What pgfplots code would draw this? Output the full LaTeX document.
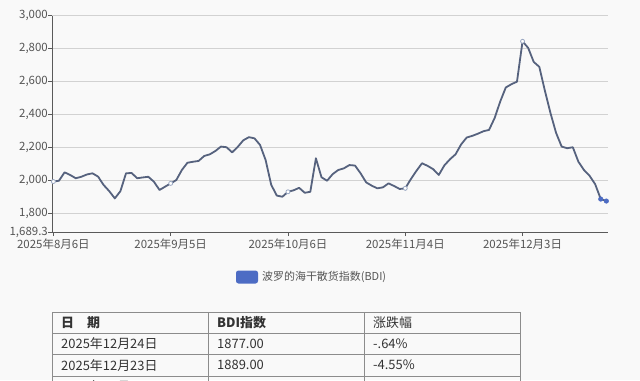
\documentclass[border=0pt]{standalone}
\usepackage{pgfplots}
\usepackage{pgfplotstable}
\pgfplotsset{compat=1.18}
\usepackage{fontspec}
\setmainfont{Noto Sans CJK SC}
\definecolor{bg}{HTML}{F9F9F9}
\definecolor{lineC}{HTML}{56627E}
\definecolor{legblue}{HTML}{4D6CC4}
\definecolor{gridC}{HTML}{D2D2D2}
\definecolor{axC}{HTML}{5A5A5A}
\definecolor{txt}{HTML}{555555}
\definecolor{markC}{HTML}{9AA8C2}
\definecolor{tabC}{HTML}{8C8C8C}
\definecolor{tabTxt}{HTML}{333333}

\pgfplotstableread{
x y
0 1995
1 2000
2 2051
3 2035
4 2015
5 2024
6 2038
7 2045
8 2025
9 1974
10 1937
11 1893
12 1937
13 2045
14 2047
15 2015
16 2020
17 2024
18 1994
19 1944
20 1964
21 1984
22 2004
23 2065
24 2109
25 2115
26 2120
27 2150
28 2160
29 2180
30 2207
31 2203
32 2172
33 2205
34 2245
35 2264
36 2257
37 2217
38 2125
39 1975
40 1910
41 1903
42 1933
43 1942
44 1957
45 1927
46 1933
47 2136
48 2021
49 2000
50 2040
51 2065
52 2075
53 2095
54 2092
55 2045
56 1990
57 1970
58 1954
59 1960
60 1984
61 1968
62 1950
63 1954
64 2010
65 2060
66 2106
67 2090
68 2070
69 2035
70 2093
71 2130
72 2160
73 2220
74 2262
75 2272
76 2285
77 2300
78 2308
79 2380
80 2480
81 2565
82 2585
83 2600
84 2845
85 2805
86 2720
87 2690
88 2545
89 2410
90 2290
91 2207
92 2197
93 2203
94 2115
95 2065
96 2030
97 1979
98 1889
99 1877
}\bdi

\begin{document}
\begin{tikzpicture}[x=1bp,y=1bp]
\useasboundingbox (0,0) rectangle (640,-380);
\fill[bg] (0,0) rectangle (640,-380);
\begin{scope}
\clip (0,0) rectangle (640,-380);
\begin{axis}[
  at={(52bp,-232bp)}, anchor=south west,
  scale only axis, width=556bp, height=216.3bp,
  xmin=-0.25, xmax=99.3, ymin=1689.3, ymax=3000,
  axis x line*=bottom, axis y line*=left,
  axis line style={axC, line width=0.9bp},
  ymajorgrids, grid style={gridC, line width=0.8bp},
  tick style={axC, line width=0.8bp},
  major tick length=4bp, tick align=outside,
  xtick={0,21,42,63,84},
  xticklabels={2025年8月6日,2025年9月5日,2025年10月6日,2025年11月4日,2025年12月3日},
  ytick={1689.3,1800,2000,2200,2400,2600,2800,3000},
  yticklabels={{1,689.3},{1,800},{2,000},{2,200},{2,400},{2,600},{2,800},{3,000}},
  ticklabel style={font=\fontsize{11.5}{12}\selectfont, text=txt},
  xticklabel style={inner sep=1bp, yshift=-2bp},
  yticklabel style={inner sep=1bp, xshift=1bp},
  clip=false,
]
\addplot[lineC, line width=1.8bp, line join=round] table[x=x,y=y] {\bdi};
\addplot[only marks, mark=*, mark size=2bp, mark options={fill=white, draw=markC, line width=0.8bp}]
  coordinates {(0,1995) (21,1984) (42,1933) (63,1954) (84,2845)};
\addplot[only marks, mark=*, mark size=2.3bp, mark options={fill=legblue, draw=legblue}]
  coordinates {(98,1889) (99,1877)};
\end{axis}

% legend
\fill[legblue, rounded corners=2.5bp] (236,-270.5) rectangle (258,-283.5);
\node[anchor=west, inner sep=0pt, font=\fontsize{11}{12}\selectfont, text=txt] at (262,-277) {波罗的海干散货指数(BDI)};

% table
\begin{scope}[tabC, line width=0.8bp]
\draw (52,-312.3) -- (520,-312.3);
\draw (52,-333.3) -- (520,-333.3);
\draw (52,-354.5) -- (520,-354.5);
\draw (52,-376) -- (520,-376);
\draw (52,-312.3) -- (52,-400);
\draw (208,-312.3) -- (208,-400);
\draw (364,-312.3) -- (364,-400);
\draw (520,-312.3) -- (520,-400);
\end{scope}
\begin{scope}[every node/.style={anchor=west, inner sep=0pt, font=\fontsize{13}{14}\selectfont, text=tabTxt}]
\node at (61,-322.8) {\bfseries 日　期};
\node at (217,-322.8) {\bfseries BDI指数};
\node at (373,-322.8) {涨跌幅};
\node at (61,-343.9) {2025年12月24日};
\node at (217,-343.9) {1877.00};
\node at (373,-343.9) {-.64\%};
\node at (61,-365.2) {2025年12月23日};
\node at (217,-365.2) {1889.00};
\node at (373,-365.2) {-4.55\%};
\node at (61,-386.5) {2025年12月22日};
\node at (217,-386.5) {1979.00};
\node at (373,-386.5) {-3.47\%};
\end{scope}
\end{scope}
\end{tikzpicture}
\end{document}
